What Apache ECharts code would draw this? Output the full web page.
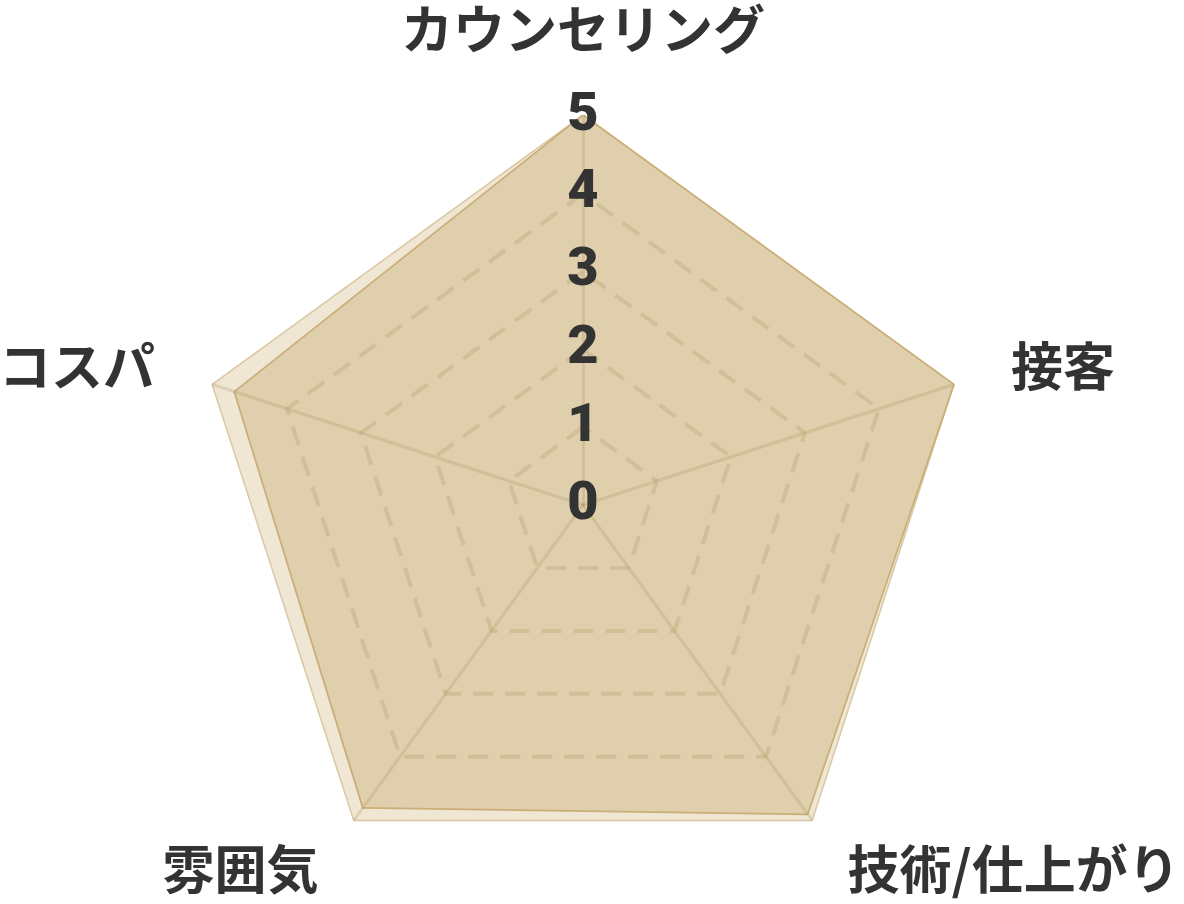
<!DOCTYPE html>
<html lang="ja">
<head>
    <meta charset="UTF-8">
    <title>Radar</title>
    <style>
        html, body {
            margin: 0;
            padding: 0;
            background: #fff;
        }
        #chart {
            width: 1184px;
            height: 904px;
        }
    </style>
</head>
<body>
<div id="chart"></div>
<script src="https://cdn.jsdelivr.net/npm/echarts@6/dist/echarts.min.js"></script>
<script>
    // order follows echarts radar: top first, then counter-clockwise
    var categories = ['カウンセリング', 'コスパ', '雰囲気', '技術/仕上がり', '接客'];
    var maxValue = 5;
    var fullScores = [5, 5, 5, 5, 5];
    var scores = [5, 4.7, 4.8, 4.9, 5];

    var myChart = echarts.init(document.getElementById('chart'));

    var indicators = categories.map(function (name, i) {
        var ind = { name: name, max: maxValue, min: 0 };
        if (i === 0) {
            ind.axisLabel = {
                show: true,
                margin: 0,
                align: 'center',
                verticalAlign: 'middle',
                color: '#333',
                fontSize: 54,
                fontWeight: 900,
                fontFamily: 'Roboto'
            };
        }
        return ind;
    });

    var gridColor = 'rgba(175, 150, 100, 0.28)';

    var option = {
        animation: false,
        radar: {
            z: 3,
            center: [583, 505],
            radius: 389,
            splitNumber: 5,
            shape: 'polygon',
            nameGap: 61,
            axisName: {
                color: '#333',
                fontSize: 52,
                fontWeight: 'bold',
                fontFamily: 'Noto Sans CJK JP'
            },
            axisLine: {
                lineStyle: { color: gridColor, width: 3 }
            },
            axisTick: { show: false },
            axisLabel: { show: false },
            splitLine: {
                lineStyle: {
                    // last ring (5) hidden, the outer series edge shows there
                    color: [gridColor, gridColor, gridColor, gridColor, gridColor, 'rgba(0,0,0,0)'],
                    width: 4,
                    type: [20, 12]
                }
            },
            splitArea: { show: false },
            indicator: indicators
        },
        series: [{
            type: 'radar',
            symbol: 'none',
            data: [{
                value: fullScores,
                lineStyle: { color: '#dac8a2', width: 3 },
                areaStyle: { color: '#efe6d4', opacity: 1 }
            }, {
                value: scores,
                lineStyle: { color: '#cbae77', width: 3.5 },
                areaStyle: { color: '#dfcfac', opacity: 1 }
            }]
        }]
    };
    myChart.setOption(option);
</script>
</body>
</html>
